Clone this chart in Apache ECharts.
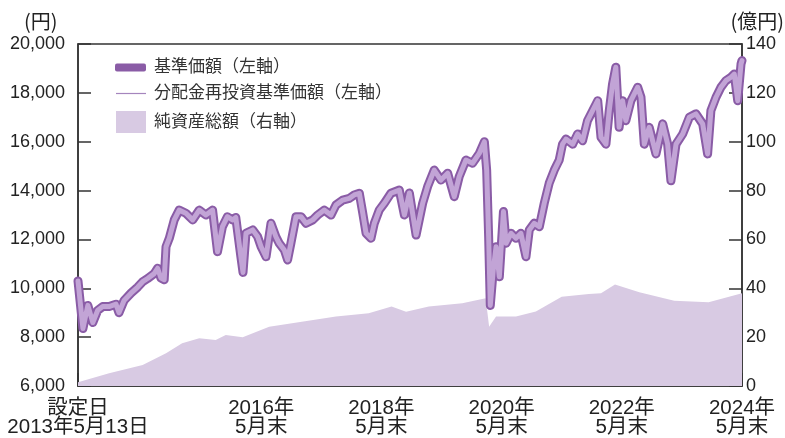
<!DOCTYPE html>
<html>
<head>
<meta charset="utf-8">
<script src="https://cdn.jsdelivr.net/npm/echarts@6/dist/echarts.min.js"></script>
<style>
html,body{margin:0;padding:0;background:#fff;}
#c{width:785px;height:438px;}
</style>
</head>
<body>
<div id="c"></div>
<script>
// ---- data ----
const navDates = ['2013-05-13','2013-06-12','2013-07-12','2013-08-11','2013-09-10','2013-10-10','2013-11-18','2013-12-30','2014-01-17','2014-02-17','2014-03-31','2014-05-11','2014-06-10','2014-07-10','2014-08-19','2014-09-09','2014-09-29','2014-10-19','2014-10-30','2014-11-19','2014-12-19','2015-01-18','2015-02-28','2015-04-10','2015-05-20','2015-06-29','2015-08-09','2015-09-08','2015-10-08','2015-11-07','2015-12-08','2015-12-28','2016-01-28','2016-02-10','2016-02-28','2016-04-09','2016-05-09','2016-05-30','2016-06-29','2016-07-29','2016-08-28','2016-09-17','2016-10-18','2016-11-07','2016-11-27','2016-12-28','2017-01-28','2017-02-27','2017-04-09','2017-05-09','2017-06-18','2017-07-29','2017-08-28','2017-10-08','2017-11-17','2017-12-17','2018-01-17','2018-02-07','2018-02-27','2018-03-29','2018-04-18','2018-05-18','2018-06-18','2018-07-28','2018-09-17','2018-10-18','2018-11-17','2018-12-28','2019-02-06','2019-03-08','2019-04-17','2019-05-28','2019-07-08','2019-08-17','2019-09-16','2019-10-27','2019-12-06','2020-01-16','2020-02-16','2020-03-01','2020-03-13','2020-03-23','2020-04-10','2020-04-27','2020-05-17','2020-06-11','2020-06-27','2020-07-27','2020-08-26','2020-09-25','2020-10-26','2020-11-15','2020-12-15','2021-01-15','2021-02-14','2021-03-16','2021-04-16','2021-05-16','2021-06-05','2021-06-26','2021-08-06','2021-09-05','2021-10-05','2021-11-04','2021-12-05','2022-01-05','2022-01-25','2022-02-24','2022-03-16','2022-04-05','2022-04-25','2022-05-15','2022-06-05','2022-06-25','2022-07-26','2022-09-05','2022-09-25','2022-10-15','2022-11-14','2022-12-25','2023-02-04','2023-03-06','2023-03-26','2023-04-26','2023-06-06','2023-07-16','2023-08-25','2023-10-05','2023-11-04','2023-11-24','2023-12-25','2024-01-24','2024-02-23','2024-03-25','2024-04-14','2024-05-05','2024-05-25','2024-05-31'];
const navValues = [10300,8350,9300,8600,9100,9250,9250,9350,9000,9500,9800,10050,10270,10400,10600,10820,10420,10350,11700,12050,12800,13200,13070,12800,13200,13000,13200,11500,12520,12930,12800,12900,11290,10650,12250,12390,12110,11700,11290,12660,12110,11840,11570,11160,11840,12930,12930,12660,12800,13000,13200,13000,13410,13610,13680,13820,13890,13070,12250,12050,12660,13200,13480,13890,14020,13000,13900,12180,13480,14160,14840,14430,14710,13750,14570,15250,15120,15520,16000,14840,12110,9300,10750,11700,10470,13140,11840,12250,12050,12250,11290,12390,12660,12520,13480,14300,14840,15250,15900,16110,15900,16320,16040,16860,17270,17680,16180,15900,17270,18360,19050,16590,17680,16860,17680,18230,17820,15900,16590,15500,16730,15900,14400,15900,16320,17000,17140,16730,15500,17270,17820,18230,18500,18640,18770,17680,19180,19320];
// 分配金再投資基準価額 (no distributions -> same as 基準価額)
const reinvValues = navValues.slice();
const assetDates = ['2013-05-13','2013-11-18','2014-06-10','2014-10-30','2015-02-05','2015-05-20','2015-08-28','2015-10-28','2016-02-08','2016-07-18','2017-02-01','2017-08-28','2018-03-15','2018-08-01','2018-10-28','2019-03-15','2019-10-05','2020-02-24','2020-03-16','2020-04-27','2020-08-26','2020-12-25','2021-05-31','2021-11-12','2022-01-25','2022-04-20','2022-09-15','2023-04-15','2023-11-10','2024-05-31'];
const assetValues = [1.5,5.2,8.6,13.4,17.5,19.5,18.8,20.9,20.0,24.3,26.3,28.4,29.8,32.5,30.4,32.5,33.9,35.9,24.3,28.4,28.4,30.5,36.5,37.7,38.0,41.5,38.4,34.9,34.3,38.0];
const leftTicks = [6000,8000,10000,12000,14000,16000,18000,20000];
const rightTicks = [0,20,40,60,80,100,120,140];
const xTickDates = ['2013-05-13','2016-05-31','2018-05-31','2020-05-31','2022-05-31','2024-05-31'];
const xTickLabels = ['設定日\n2013年5月13日','2016年\n5月末','2018年\n5月末','2020年\n5月末','2022年\n5月末','2024年\n5月末'];

function ts(s){const p=s.split('-').map(Number);return Date.UTC(p[0],p[1]-1,p[2]);}
const xTickTs = xTickDates.map(ts);
const navData = navDates.map((d,i)=>[ts(d),navValues[i]]);
const reinvData = navDates.map((d,i)=>[ts(d),reinvValues[i]]);
const assetData = assetDates.map((d,i)=>[ts(d),assetValues[i]]);

const DARK='#8a5ca6', LIGHT='#c2a4d6', AREA='#d8cae3';
const numFont = "'Liberation Sans', Arial, sans-serif";
const jpFont = "'Liberation Sans', 'Noto Sans CJK JP', sans-serif";

const chart = echarts.init(document.getElementById('c'), null, {renderer:'canvas'});
chart.setOption({
  animation:false,
  backgroundColor:'#fff',
  grid:{left:78,right:43,top:44,bottom:52,outerBoundsMode:'none',containLabel:false,show:true,borderColor:'#333',borderWidth:1.5,backgroundColor:'transparent'},
  legend:[
    {data:['基準価額（左軸）'],left:110,top:54,orient:'vertical',icon:'roundRect',itemWidth:31,itemHeight:8,itemGap:0,
     itemStyle:{color:DARK},textStyle:{fontSize:17,color:'#333',fontFamily:jpFont,padding:[0,0,0,3]},selectedMode:false},
    {data:['分配金再投資基準価額（左軸）'],left:111,top:80,orient:'vertical',icon:'rect',itemWidth:30,itemHeight:1.2,
     itemStyle:{color:'#a585bd'},textStyle:{fontSize:17,color:'#333',fontFamily:jpFont,padding:[0,0,0,3]},selectedMode:false},
    {data:['純資産総額（右軸）'],left:111,top:106,orient:'vertical',icon:'rect',itemWidth:30,itemHeight:22,
     itemStyle:{color:AREA},textStyle:{fontSize:17,color:'#333',fontFamily:jpFont,padding:[0,0,0,3]},selectedMode:false}
  ],
  xAxis:{
    type:'value', min:ts('2013-05-13'), max:ts('2024-05-31'), scale:true,
    axisLine:{show:true,lineStyle:{color:'#333',width:1.5}},
    axisTick:{show:true,inside:true,length:13,lineStyle:{color:'#333',width:1.5},customValues:xTickTs},
    axisLabel:{customValues:xTickTs,color:'#222',fontSize:20.5,lineHeight:19,margin:13,fontFamily:jpFont,
      formatter:function(v){const i=xTickTs.indexOf(v);return i>=0?xTickLabels[i]:'';}},
    splitLine:{show:false}
  },
  yAxis:[
    {type:'value',min:leftTicks[0],max:leftTicks[leftTicks.length-1],interval:2000,position:'left',
     axisLine:{show:true,lineStyle:{color:'#333',width:1.5}},
     axisTick:{show:true,inside:true,length:13,lineStyle:{color:'#333',width:1.5}},
     axisLabel:{color:'#222',fontSize:18,margin:13,fontFamily:numFont,
       formatter:function(v){return String(v).replace(/\B(?=(\d{3})+(?!\d))/g,',');}},
     splitLine:{show:false}},
    {type:'value',min:rightTicks[0],max:rightTicks[rightTicks.length-1],interval:20,position:'right',
     axisLine:{show:true,lineStyle:{color:'#333',width:1.5}},
     axisTick:{show:true,inside:true,length:13,lineStyle:{color:'#333',width:1.5}},
     axisLabel:{color:'#222',fontSize:18,margin:4,fontFamily:numFont},
     splitLine:{show:false}}
  ],
  graphic:[
    {type:'text',left:24,top:11,style:{text:'(円)',fill:'#222',font:"20px 'Noto Sans CJK JP'"}},
    {type:'text',right:1,top:11,style:{text:'(億円)',fill:'#222',font:"20px 'Noto Sans CJK JP'"}}
  ],
  series:[
    {name:'純資産総額（右軸）',type:'line',yAxisIndex:1,data:assetData,symbol:'none',
     lineStyle:{width:0,color:AREA},itemStyle:{color:AREA},areaStyle:{color:AREA,opacity:1},z:1},
    {name:'基準価額（左軸）',type:'line',yAxisIndex:0,data:navData,symbol:'none',
     lineStyle:{width:9,color:DARK,join:'round',cap:'round'},itemStyle:{color:DARK},z:2},
    {name:'分配金再投資基準価額（左軸）',type:'line',yAxisIndex:0,data:reinvData,symbol:'none',
     lineStyle:{width:5,color:LIGHT,join:'round',cap:'round'},itemStyle:{color:LIGHT},z:3}
  ]
});
</script>
</body>
</html>
